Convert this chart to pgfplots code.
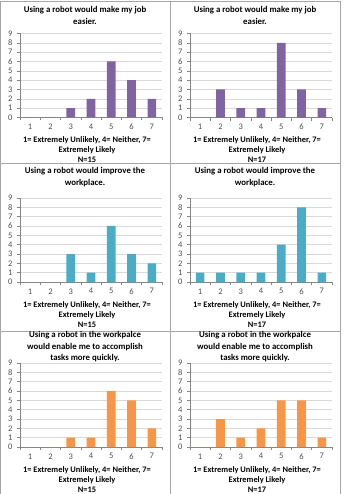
\documentclass[border=0pt]{standalone}
\usepackage{fontspec}
\setmainfont{Carlito}
\usepackage{pgfplots}
\pgfplotsset{compat=1.18}

\definecolor{xlpurple}{HTML}{8064A2}
\definecolor{xlblue}{HTML}{4BACC6}
\definecolor{xlorange}{HTML}{F79646}
\definecolor{axisgray}{HTML}{868686}
\definecolor{gridgray}{HTML}{D9D9D9}
\definecolor{ticktext}{HTML}{4D4D4D}
\definecolor{tablegray}{HTML}{A6A6A6}

\pgfplotsset{
  likert/.style={
    scale only axis, width=142pt, height=84pt, anchor=south west,
    xmin=0.5, xmax=7.5, ymin=0, ymax=9,
    xtick={1,...,7}, ytick={0,...,9},
    minor xtick={0.5,1.5,...,7.5},
    axis x line*=bottom, axis y line*=left,
    axis line style={axisgray, line width=0.6pt, -},
    ymajorgrids, major grid style={gridgray, line width=0.6pt},
    tick align=outside, major tick length=3pt, minor tick length=3pt,
    major x tick style={draw=none},
    minor x tick style={draw=axisgray, line width=0.6pt},
    major y tick style={draw=axisgray, line width=0.6pt},
    tick label style={font=\fontsize{8.5}{9}\selectfont, text=ticktext},
    yticklabel style={xshift=-1pt},
    /pgf/number format/assume math mode=true,
    title style={font=\bfseries\fontsize{8.8}{11.5}\selectfont, align=center, anchor=center},
    xlabel style={font=\bfseries\fontsize{8.4}{10}\selectfont, align=center, anchor=center,
      at={(axis description cs:0.472,-0.385)}},
    ybar, bar width=8.7pt,
  }
}

% #1,#2: lower left corner of the plot area, #3: bar colour, #4: counts,
% #5: question, #6: vertical position of the question, #7: sample size
\newcommand{\likertchart}[7]{%
  \begin{axis}[likert, at={(#1,#2)},
      title={#5}, title style={at={(axis description cs:0.458,#6)}},
      xlabel={1= Extremely Unlikely, 4= Neither, 7=\\Extremely Likely\\N=#7}]
    \addplot[fill=#3, draw=none] coordinates {#4};
  \end{axis}}

\begin{document}
\begin{tikzpicture}
  \path[use as bounding box] (0pt,0pt) rectangle (345pt,-494pt);

  % table rules
  \begin{scope}[draw=tablegray, line width=0.8pt]
    \draw (0.5pt,-494pt) -- (0.5pt,-1.5pt) -- (340pt,-1.5pt) -- (340pt,-494pt);
    \draw (170pt,-1.5pt) -- (170pt,-494pt);
    \draw (0.5pt,-163.5pt) -- (340pt,-163.5pt);
    \draw (0.5pt,-331pt) -- (340pt,-331pt);
  \end{scope}

  % Job easier
  \likertchart{20pt}{-117.5pt}{xlpurple}
    {(1,0) (2,0) (3,1) (4,2) (5,6) (6,4) (7,2)}
    {Using a robot would make my job\\easier.}{1.143}{15}
  \likertchart{190pt}{-117.5pt}{xlpurple}
    {(1,0) (2,3) (3,1) (4,1) (5,8) (6,3) (7,1)}
    {Using a robot would make my job\\easier.}{1.143}{17}

  % Improve workplace
  \likertchart{20pt}{-282pt}{xlblue}
    {(1,0) (2,0) (3,3) (4,1) (5,6) (6,3) (7,2)}
    {Using a robot would improve the\\workplace.}{1.179}{15}
  \likertchart{190pt}{-282pt}{xlblue}
    {(1,1) (2,1) (3,1) (4,1) (5,4) (6,8) (7,1)}
    {Using a robot would improve the\\workplace.}{1.179}{17}

  % Tasks more quickly
  \likertchart{20pt}{-447pt}{xlorange}
    {(1,0) (2,0) (3,1) (4,1) (5,6) (6,5) (7,2)}
    {Using a robot in the workpalce\\would enable me to accomplish\\tasks more quickly.}{1.119}{15}
  \likertchart{190pt}{-447pt}{xlorange}
    {(1,0) (2,3) (3,1) (4,2) (5,5) (6,5) (7,1)}
    {Using a robot in the workpalce\\would enable me to accomplish\\tasks more quickly.}{1.119}{17}
\end{tikzpicture}
\end{document}
